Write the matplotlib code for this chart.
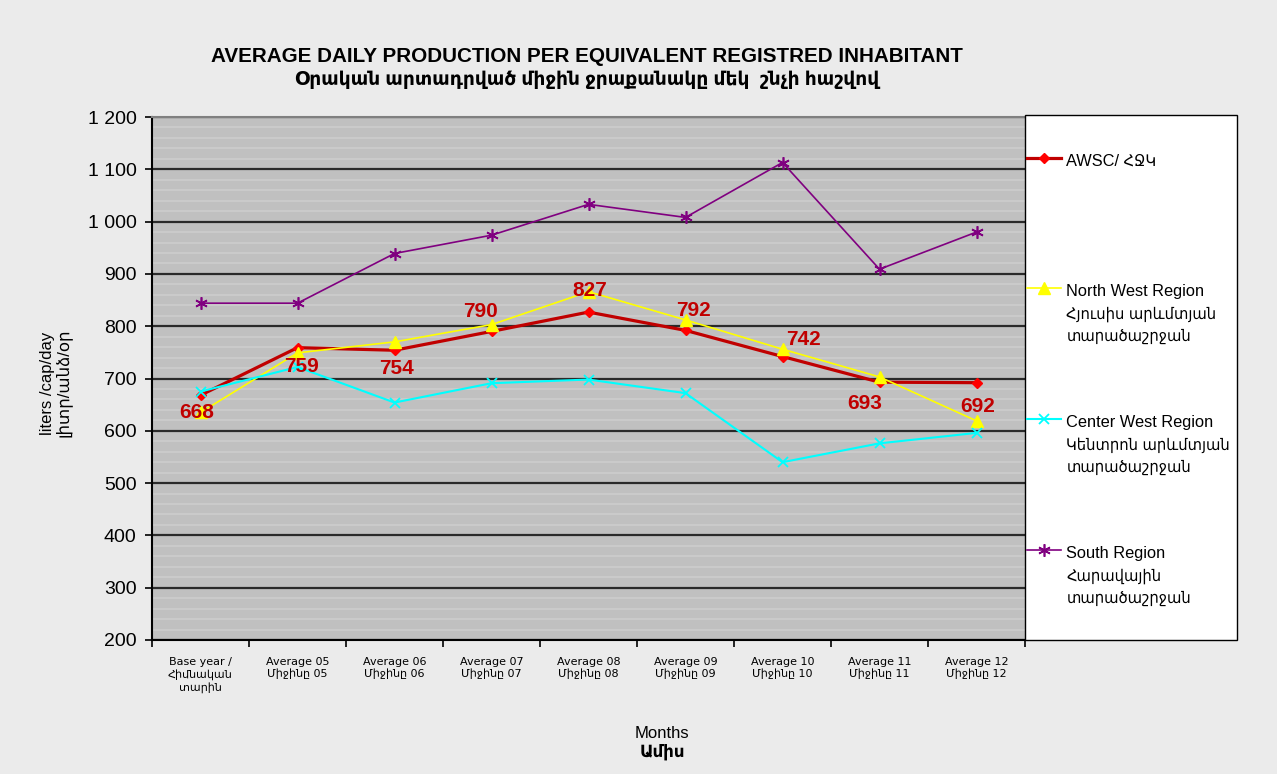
import matplotlib
matplotlib.use("Agg")
import matplotlib.pyplot as plt
from matplotlib.patches import Rectangle
from matplotlib.legend_handler import HandlerLine2D
from matplotlib.font_manager import FontProperties
import numpy as np

# ---------------- data ----------------
categories = [
    "Base year /\nՀիմնական\nտարին",
    "Average 05\nՄիջինը 05",
    "Average 06\nՄիջինը 06",
    "Average 07\nՄիջինը 07",
    "Average 08\nՄիջինը 08",
    "Average 09\nՄիջինը 09",
    "Average 10\nՄիջինը 10",
    "Average 11\nՄիջինը 11",
    "Average 12\nՄիջինը 12",
]
awsc = [668, 759, 754, 790, 827, 792, 742, 693, 692]
north_west = [635, 749, 770, 803, 866, 812, 756, 703, 619]
center_west = [675, 722, 654, 691, 698, 672, 540, 576, 596]
south = [844, 844, 939, 974, 1033, 1008, 1113, 909, 980]

series_labels = [
    "AWSC/ ՀՋԿ\n \n ",
    "North West Region\nՀյուսիս արևմտյան\nտարածաշրջան",
    "Center West Region\nԿենտրոն արևմտյան\nտարածաշրջան",
    "South Region\nՀարավային\nտարածաշրջան",
]
ytick_values = [200, 300, 400, 500, 600, 700, 800, 900, 1000, 1100, 1200]
ytick_labels = ["200", "300", "400", "500", "600", "700", "800", "900",
                "1 000", "1 100", "1 200"]

title_en = "AVERAGE DAILY PRODUCTION PER EQUIVALENT REGISTRED INHABITANT"
title_am = "Օրական արտադրված միջին ջրաքանակը մեկ  շնչի հաշվով"

# ---------------- styles ----------------
# label offsets (pixels) for the AWSC data labels
label_offsets = [(-4, -17), (4, -19), (2, -18), (-11, 20), (1, 22),
                 (8, 20), (21, 17), (-15, -21), (1, -24)]

FONT = ["Liberation Sans", "DejaVu Sans"]
NARROW = ["Liberation Sans Narrow", "DejaVu Sans"]
plt.rcParams["font.family"] = FONT

W, H = 1277, 774
fig = plt.figure(figsize=(W / 100, H / 100), dpi=100)
fig.patch.set_facecolor("#ebebeb")

L, R, T, B = 152, 1025, 117, 640
ax = fig.add_axes([L / W, 1 - B / H, (R - L) / W, (B - T) / H])
ax.set_facecolor("#c0c0c0")

x = np.arange(len(categories))

l1, = ax.plot(x, awsc, color="#c00000", lw=2.3, marker="D", ms=5.5,
              mfc="#ff0000", mec="#ff0000", zorder=3)
l2, = ax.plot(x, north_west, color="#ffff00", lw=1.2, marker="^", ms=8,
              mfc="#ffff00", mec="#ffff00", zorder=3)
l3, = ax.plot(x, center_west, color="#00ffff", lw=1.5, marker="x", ms=7,
              mew=1.3, zorder=3)
l4, = ax.plot(x, south, color="#800080", lw=1.2, marker=(6, 2, 0), ms=9,
              mew=1.2, zorder=3)

for xi, v, (dx, dy) in zip(x, awsc, label_offsets):
    ax.annotate(f"{v}", (xi, v), xytext=(dx, dy), textcoords="offset pixels",
                ha="center", va="center", fontsize=15, fontweight="bold",
                color="#c00000", zorder=4)

ax.set_xlim(-0.5, len(categories) - 0.5)
ax.set_ylim(200, 1200)

# y axis
ax.set_yticks(ytick_values)
ax.set_yticklabels(ytick_labels, fontsize=14)
ax.set_yticks(np.arange(200, 1201, 20), minor=True)
ax.tick_params(axis="y", which="major", length=5, width=1.2, color="black", pad=6)
ax.tick_params(axis="y", which="minor", length=0)
ax.grid(axis="y", which="minor", color="#cacaca", lw=1.5, zorder=0)
ax.grid(axis="y", which="major", color="#2a2a2a", lw=1.6, zorder=1)

# x axis: tick marks between categories, labels centred
ax.set_xticks(np.arange(-0.5, len(categories), 1.0))
ax.set_xticklabels([])
ax.set_xticks(x, minor=True)
ax.set_xticklabels(categories, minor=True, fontsize=8, family=NARROW,
                   linespacing=1.25)
ax.tick_params(axis="x", which="major", length=5, width=1.2, color="black")
ax.tick_params(axis="x", which="minor", length=0, pad=12)

ax.set_axisbelow(True)
for s in ["left", "bottom"]:
    ax.spines[s].set_color("black")
    ax.spines[s].set_linewidth(1.5)
ax.spines["top"].set_color("#808080")
ax.spines["top"].set_linewidth(1.5)
ax.spines["right"].set_visible(False)

# titles
fig.text(587 / W, 1 - 57 / H, title_en, ha="center", va="center",
         fontsize=14.9, fontweight="bold")
fig.text(587 / W, 1 - 80 / H, title_am, ha="center", va="center",
         fontsize=13.4, fontweight="bold", family=FONT)

# axis titles
fig.text(55.5 / W, 1 - 383 / H, "liters /cap/day\nլիտր/անձ/օր", rotation=90,
         ha="center", va="center", fontsize=12, multialignment="center",
         linespacing=1.0)
fig.text(662 / W, 1 - 734 / H, "Months", ha="center", va="center",
         fontsize=12)
fig.text(662 / W, 1 - 752 / H, "Ամիս", ha="center", va="center",
         fontsize=12, fontweight="bold")

# legend box
fig.add_artist(Rectangle((R / W, 1 - B / H), 212 / W, (B - 115) / H,
                         transform=fig.transFigure, facecolor="white",
                         edgecolor="black", lw=1.0, zorder=1))


class FirstLineHandler(HandlerLine2D):
    def __init__(self, shift, **kw):
        super().__init__(**kw)
        self.shift = shift

    def create_artists(self, legend, orig_handle, xdescent, ydescent,
                       width, height, fontsize, trans):
        arts = super().create_artists(legend, orig_handle, xdescent, ydescent,
                                      width, height, fontsize, trans)
        for a in arts:
            yd = np.asarray(a.get_ydata(), dtype=float)
            a.set_ydata(yd + self.shift)
        return arts


leg_prop = FontProperties(family=FONT, size=11.8, stretch="condensed")
handler = FirstLineHandler(19)
leg = fig.legend([l1, l2, l3, l4], series_labels, loc="upper left",
                 bbox_to_anchor=(1027 / W, 1 - 154 / H), frameon=False,
                 prop=leg_prop, handlelength=2.1, handletextpad=0.3,
                 labelspacing=4.3, borderaxespad=0, borderpad=0,
                 handler_map={l1: handler, l2: handler, l3: handler, l4: handler})
leg.set_zorder(2)
for t in leg.get_texts():
    t.set_linespacing(1.6)

fig.savefig("out.png", dpi=100, facecolor=fig.get_facecolor())
